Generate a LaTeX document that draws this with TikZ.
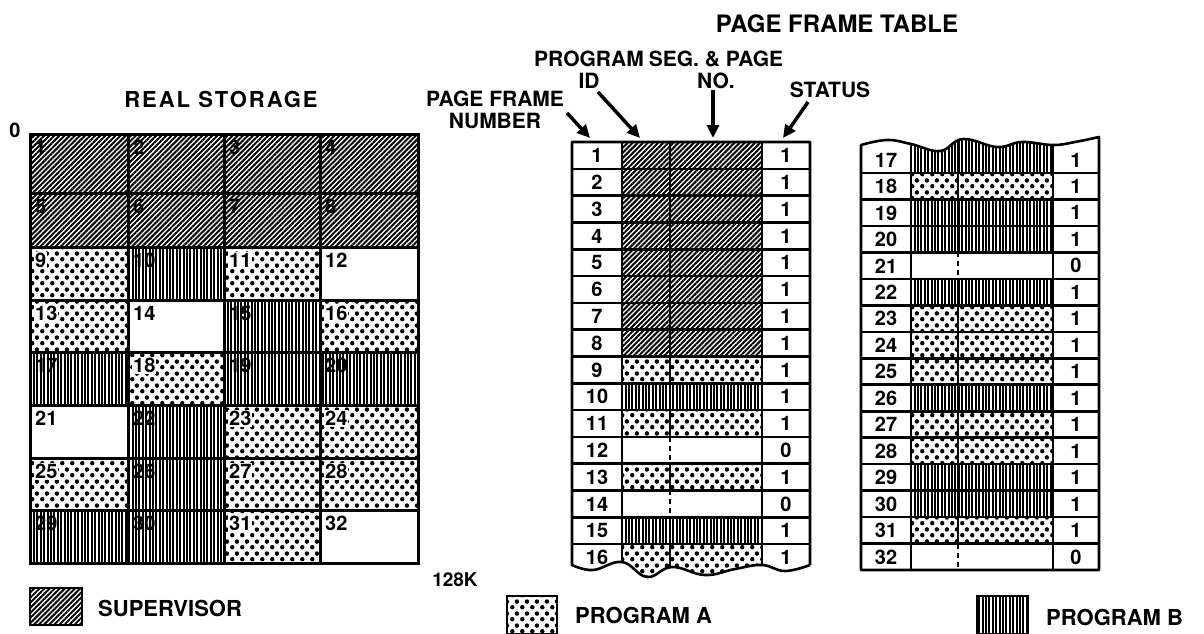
\documentclass[tikz,border=0pt]{standalone}
\usepackage{fontspec}
\setmainfont{TeX Gyre Heros}
\usetikzlibrary{patterns,patterns.meta,arrows.meta}
\pgfdeclarepatternformonly{dotsA}{\pgfqpoint{0pt}{0pt}}{\pgfqpoint{10pt}{12pt}}{\pgfqpoint{10pt}{12pt}}{%
  \pgfpathcircle{\pgfqpoint{2.5pt}{3pt}}{2.4pt}%
  \pgfpathcircle{\pgfqpoint{7.5pt}{9pt}}{2.4pt}%
  \pgfusepath{fill}}
\tikzset{
  sup/.style={pattern={Lines[angle=45,distance=3.6pt,line width=2pt]}},
  pgb/.style={pattern={Lines[angle=90,distance=3.4pt,line width=2pt]}},
  pga/.style={pattern=dotsA},
  emp/.style={},
  sup-n/.style={}, pgb-n/.style={}, pga-n/.style={fill=white}, emp-n/.style={},
  sup-div/.style={}, pgb-div/.style={}, pga-div/.style={}, emp-div/.style={dash pattern=on 5pt off 4pt},
  divl/.style={line width=2.2pt},
  gl/.style={line width=3pt},
  tl/.style={line width=2.6pt, line join=round},
  gnum/.style={font=\bfseries\fontsize{20}{20}\selectfont, inner sep=1pt},
  tnum/.style={font=\bfseries\fontsize{20}{20}\selectfont, inner sep=0pt},
  hdr/.style={font=\bfseries\fontsize{21}{22}\selectfont, align=center, inner sep=0pt},
  leg/.style={font=\bfseries\fontsize{22}{22}\selectfont, anchor=west, inner sep=0pt},
  arr/.style={line width=3.5pt, -{Triangle[width=12pt,length=13pt]}},
}
\begin{document}
\begin{tikzpicture}[x=1pt,y=-1pt]
\useasboundingbox[fill=white] (0,0) rectangle (1204,633);

% ---------------- REAL STORAGE ----------------
\node[font=\bfseries\fontsize{22}{22}\selectfont\addfontfeatures{LetterSpace=9}, inner sep=0pt] (rstitle) at (221,99) {REAL STORAGE};
\node[font=\bfseries\fontsize{20}{20}\selectfont, inner sep=0pt] (zero) at (15,130) {0};
\node[font=\bfseries\fontsize{19}{19}\selectfont, inner sep=0pt] (kb) at (455,580) {128K};

\foreach \t [count=\n] in {sup,sup,sup,sup,sup,sup,sup,sup,pga,pgb,pga,emp,pga,emp,pgb,pga,pgb,pga,pgb,pgb,emp,pgb,pga,pga,pga,pgb,pga,pga,pgb,pgb,pga,emp}{
  \pgfmathtruncatemacro\c{mod(\n-1,4)}
  \pgfmathtruncatemacro\r{div(\n-1,4)}
  \pgfmathsetmacro\xa{{30,128,224,320,418}[\c]}
  \pgfmathsetmacro\xb{{30,128,224,320,418}[\c+1]}
  \pgfmathsetmacro\ya{{134,193,247,300,352,405,458,510,563}[\r]}
  \pgfmathsetmacro\yb{{134,193,247,300,352,405,458,510,563}[\r+1]}
  \path[\t] (\xa,\ya) rectangle (\xb,\yb);
  \node[gnum,\t-n,anchor=north west] (g\n) at (\xa+4,\ya+5) {\n};
}
\foreach \x in {128,224,320} \draw[gl] (\x,134) -- (\x,563);
\foreach \y in {193,247,300,352,405,458,510} \draw[gl] (30,\y) -- (418,\y);
\draw[gl] (30,134) rectangle (418,563);

% ---------------- PAGE FRAME TABLE ----------------
\node[font=\bfseries\fontsize{24}{24}\selectfont, inner sep=0pt] (pfttitle) at (837,24) {PAGE FRAME TABLE};
\node[hdr] (hpfn) at (495,110) {PAGE FRAME\\NUMBER};
\node[hdr] (hid) at (589,70) {PROGRAM\\ID};
\node[hdr] (hseg) at (716,70) {SEG. \& PAGE\\NO.};
\node[hdr] (hst) at (830,90) {STATUS};

\coordinate (apfn0) at (567,113); \coordinate (apfn1) at (590,138);
\coordinate (aid0) at (598,92);   \coordinate (aid1) at (640,138);
\coordinate (aseg0) at (713,90);  \coordinate (aseg1) at (713,138);
\coordinate (ast0) at (808,102);  \coordinate (ast1) at (783,138);
\draw[arr] (apfn0) -- (apfn1);
\draw[arr] (aid0) -- (aid1);
\draw[arr] (aseg0) -- (aseg1);
\draw[arr] (ast0) -- (ast1);

% table 1 (frames 1-16)
\foreach \t/\s [count=\i] in {sup/1,sup/1,sup/1,sup/1,sup/1,sup/1,sup/1,sup/1,pga/1,pgb/1,pga/1,emp/0,pga/1,emp/0,pgb/1,pga/1}{
  \pgfmathsetmacro\ya{142+(\i-1)*26.8}
  \pgfmathsetmacro\yb{\ya+26.8}
  \pgfmathsetmacro\ym{\ya+13.6}
  \ifnum\i<16
    \path[\t] (622,\ya) rectangle (762,\yb);
    \draw[divl,\t-div] (670,\ya) -- (670,\yb);
  \fi
  \node[tnum] (p\i) at (597,\ym) {\i};
  \node[tnum] (s\i) at (786,\ym) {\s};
}
\begin{scope}
  \clip (622,540) rectangle (762,600);
  \path[pga] (572,544) -- plot[smooth,tension=0.7] coordinates {(572,565) (593,570) (622,562) (647,577) (672,567) (705,575) (735,569) (762,565) (785,571) (810,565)} -- (810,544) -- cycle;
\end{scope}
\draw[divl] (670,544) -- (670,567);
\foreach \i in {1,...,15} \draw[tl] (572,{142+\i*26.8}) -- (810,{142+\i*26.8});
\draw[tl] (622,142) -- (622,562);
\draw[tl] (762,142) -- (762,565);
\draw[tl] (810,565) -- (810,142) -- (572,142) -- (572,565) -- plot[smooth,tension=0.7] coordinates {(572,565) (593,570) (622,562) (647,577) (672,567) (705,575) (735,569) (762,565) (785,571) (810,565)};

% table 2 (frames 17-32)
\foreach \t/\s [count=\i from 17] in {pgb/1,pga/1,pgb/1,pgb/1,emp/0,pgb/1,pga/1,pga/1,pga/1,pgb/1,pga/1,pga/1,pgb/1,pgb/1,pga/1,emp/0}{
  \ifnum\i=17
    \def\ym{160}
  \else
    \pgfmathsetmacro\ya{173+(\i-18)*26.47}
    \pgfmathsetmacro\yb{\ya+26.47}
    \pgfmathsetmacro\ym{\ya+13.4}
    \path[\t] (911,\ya) rectangle (1053,\yb);
    \draw[divl,\t-div] (958,\ya) -- (958,\yb);
  \fi
  \node[tnum] (p\i) at (886,\ym) {\i};
  \node[tnum] (s\i) at (1076,\ym) {\s};
}
\begin{scope}
  \clip (911,120) rectangle (1053,173);
  \path[pgb] (861,173) -- plot[smooth,tension=0.7] coordinates {(861,145) (887,140) (911,144) (940,151) (963,139) (997,147) (1022,142) (1053,145) (1075,142) (1099,137)} -- (1099,173) -- cycle;
\end{scope}
\draw[divl] (958,142) -- (958,173);
\foreach \i in {0,...,14} \draw[tl] (861,{173+\i*26.47}) -- (1099,{173+\i*26.47});
\draw[tl] (911,144) -- (911,570);
\draw[tl] (1053,145) -- (1053,570);
\draw[tl] (861,570) -- (861,145) -- plot[smooth,tension=0.7] coordinates {(861,145) (887,140) (911,144) (940,151) (963,139) (997,147) (1022,142) (1053,145) (1075,142) (1099,137)} -- (1099,570) -- cycle;

% ---------------- LEGEND ----------------
\draw[line width=2pt, sup] (30,588) rectangle (82,625);
\node[leg] (lsup) at (98,608) {SUPERVISOR};
\draw[line width=2pt, pga] (507,596) rectangle (557,634);
\node[leg] (lpga) at (575,615) {PROGRAM A};
\draw[line width=2pt, pgb] (977,596) rectangle (1028,634);
\node[leg] (lpgb) at (1046,617) {PROGRAM B};
\end{tikzpicture}
\end{document}
